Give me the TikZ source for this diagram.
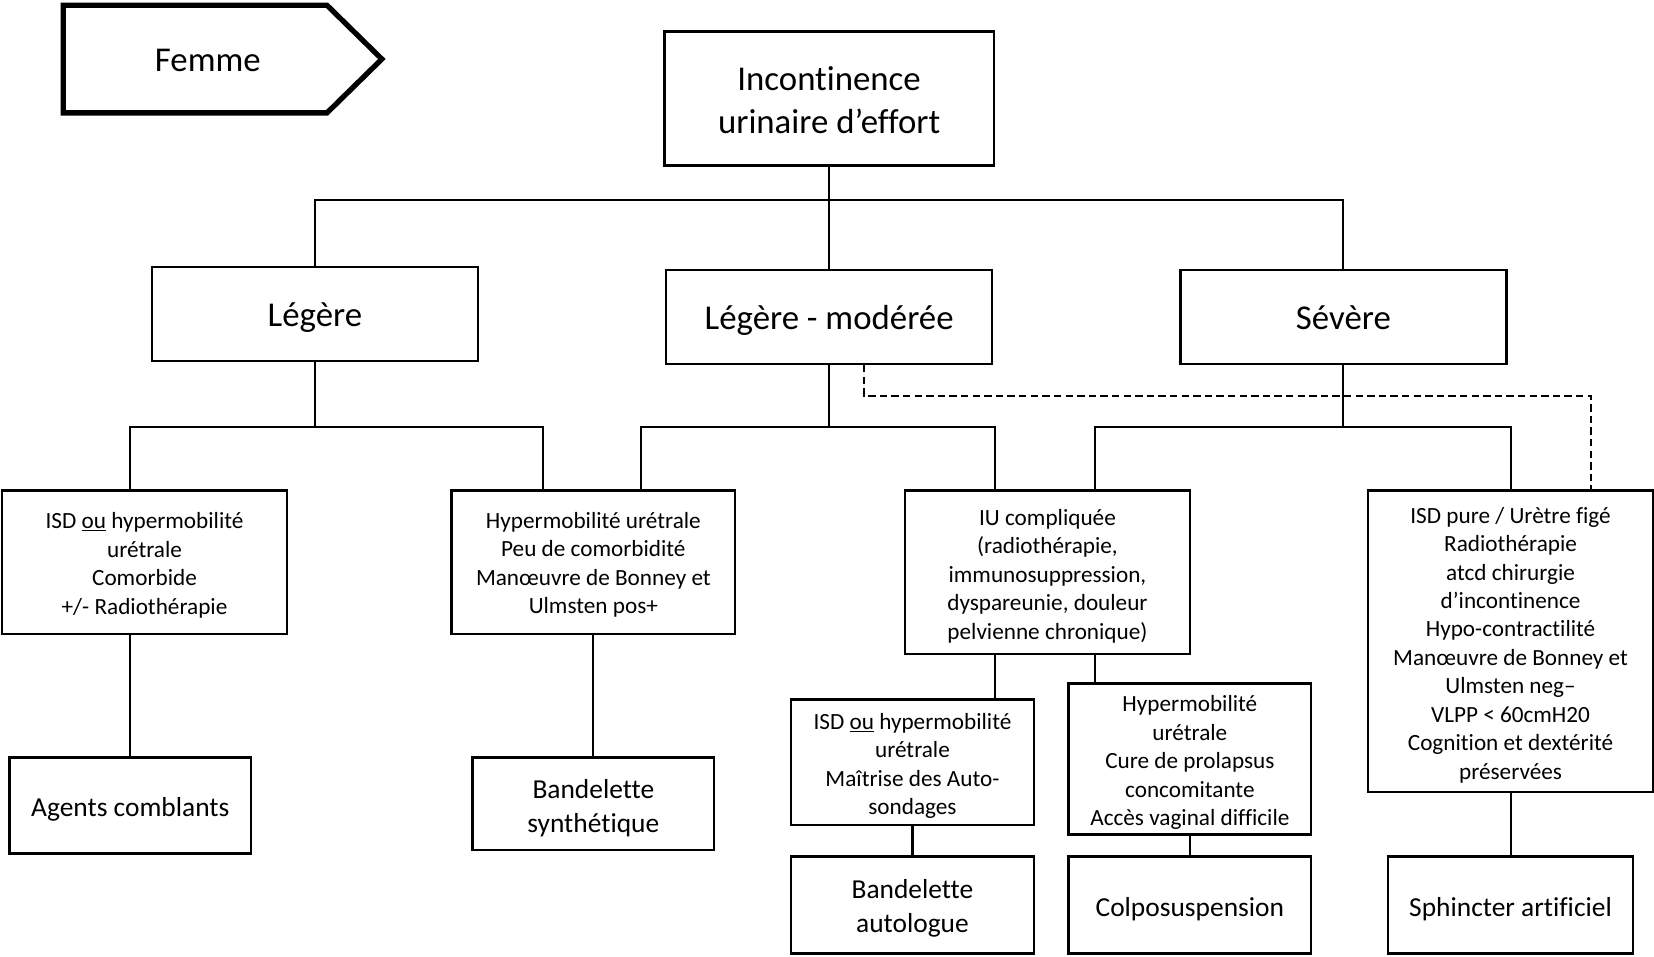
\documentclass[tikz,border=0pt]{standalone}
\usepackage{fontspec}
\setmainfont{Carlito}[Ligatures=NoCommon]
\begin{document}
\begin{tikzpicture}[x=1pt,y=-1pt,
  every node/.style={inner sep=0pt, align=center},
  frame/.style={draw, line width=2.2pt},
  tsmall/.style={font=\fontsize{22}{27}\selectfont},
  tbig/.style={font=\fontsize{33}{40}\selectfont},
  tfin/.style={font=\fontsize{26}{32}\selectfont},
  conn/.style={line width=2pt},
  dashconn/.style={line width=2pt, dash pattern=on 7pt off 4pt}]
\useasboundingbox (0,0) rectangle (1568,907);
\fill[white] (0,0) rectangle (1568,907);

% Femme arrow
\draw[line width=5pt, line join=miter] (60,5) -- (310,5) -- (362,56) -- (310,107) -- (60,107) -- cycle;
\node[tbig] (femme) at (197,57) {Femme};

% Frames
\node[frame, minimum width=312pt, minimum height=127pt] (root) at (786,93.5) {};
\node[frame, minimum width=309pt, minimum height=89pt] (leg) at (298.5,297.5) {};
\node[frame, minimum width=309pt, minimum height=89pt] (mod) at (786,300.5) {};
\node[frame, minimum width=309pt, minimum height=89pt] (sev) at (1273.5,300.5) {};
\node[frame, minimum width=270pt, minimum height=136pt] (A) at (137,533) {};
\node[frame, minimum width=269pt, minimum height=136pt] (B) at (562.5,533) {};
\node[frame, minimum width=270pt, minimum height=155pt] (IU) at (993,542.5) {};
\node[frame, minimum width=270pt, minimum height=286pt] (P) at (1432,608) {};
\node[frame, minimum width=230pt, minimum height=119pt] (C) at (865,722.5) {};
\node[frame, minimum width=230pt, minimum height=143pt] (D) at (1128,719.5) {};
\node[frame, minimum width=229pt, minimum height=91pt] (E1) at (123.5,763.5) {};
\node[frame, minimum width=229pt, minimum height=88pt] (E2) at (562.5,762) {};
\node[frame, minimum width=230pt, minimum height=92pt] (E3) at (865,858) {};
\node[frame, minimum width=230pt, minimum height=92pt] (E4) at (1128,858) {};
\node[frame, minimum width=232pt, minimum height=92pt] (E5) at (1432,858) {};

% Texts
\node[tbig] (rootT) at ([yshift=-1.5pt]root.center) {Incontinence\\urinaire d’effort};
\node[tbig] (legT) at ([yshift=-4pt]leg.center) {Légère};
\node[tbig] (modT) at ([yshift=-3pt]mod.center) {Légère - modérée};
\node[tbig] (sevT) at ([yshift=-1pt]sev.center) {Sévère};
\node[tsmall] (AT) at ([yshift=-3pt]A.center) {ISD \underline{ou} hypermobilité\\urétrale\\Comorbide\\+/- Radiothérapie};
\node[tsmall] (BT) at ([yshift=-2.5pt]B.center) {Hypermobilité urétrale\\Peu de comorbidité\\Manœuvre de Bonney et\\Ulmsten pos+};
\node[tsmall] (IUT) at ([yshift=-3.5pt]IU.center) {IU compliquée\\(radiothérapie,\\immunosuppression,\\dyspareunie, douleur\\pelvienne chronique)};
\node[tsmall] (PT) at ([yshift=-3.5pt]P.center) {ISD pure / Urètre figé\\Radiothérapie\\atcd chirurgie\\d’incontinence\\Hypo-contractilité\\Manœuvre de Bonney et\\Ulmsten neg–\\VLPP < 60cmH20\\Cognition et dextérité\\préservées};
\node[tsmall] (CT) at ([yshift=-3.5pt]C.center) {ISD \underline{ou} hypermobilité\\urétrale\\Maîtrise des Auto-\\sondages};
\node[tsmall] (DT) at ([yshift=-3.5pt]D.center) {Hypermobilité\\urétrale\\Cure de prolapsus\\concomitante\\Accès vaginal difficile};
\node[tfin] (E1T) at ([yshift=-4pt]E1.center) {Agents comblants};
\node[tfin] (E2T) at ([yshift=-4.5pt]E2.center) {Bandelette\\synthétique};
\node[tfin] (E3T) at ([yshift=-3pt]E3.center) {Bandelette\\autologue};
\node[tfin] (E4T) at ([yshift=-4pt]E4.center) {Colposuspension};
\node[tfin] (E5T) at ([yshift=-4pt]E5.center) {Sphincter artificiel};

% Junction coordinates
\coordinate (jT) at (786,190);
\coordinate (jL) at (298.5,405);
\coordinate (dA) at (123,405);
\coordinate (dB1) at (515,405);
\coordinate (jM) at (786,405);
\coordinate (dB2) at (608,405);
\coordinate (dI1) at (943,405);
\coordinate (jS) at (1273.5,405);
\coordinate (dI2) at (1038,405);
\coordinate (dP) at (1432,405);
\coordinate (dz1) at (819,375);
\coordinate (dz2) at (1508,375);

% Connectors
\draw[conn] (root.south) -- (jT);
\draw[conn] (leg.north) |- (jT) -| (sev.north);
\draw[conn] (jT) -- (mod.north);

\draw[conn] (leg.south) -- (jL);
\draw[conn] (A.north -| dA) -- (dA) -- (dB1) -- (B.north -| dB1);

\draw[conn] (mod.south) -- (jM);
\draw[conn] (B.north -| dB2) -- (dB2) -- (dI1) -- (IU.north -| dI1);

\draw[conn] (sev.south) -- (jS);
\draw[conn] (IU.north -| dI2) -- (dI2) -- (dP) -- (P.north -| dP);

\draw[dashconn] (mod.south -| dz1) -- (dz1) -- (dz2) -- (P.north -| dz2);

\draw[conn] (A.south -| dA) -- (E1.north -| dA);
\draw[conn] (B.south) -- (E2.north);
\draw[conn] (IU.south -| dI1) -- (C.north -| dI1);
\draw[conn] (IU.south -| dI2) -- (D.north -| dI2);
\draw[conn] (C.south) -- (E3.north);
\draw[conn] (D.south) -- (E4.north);
\draw[conn] (P.south) -- (E5.north);
\end{tikzpicture}
\end{document}
